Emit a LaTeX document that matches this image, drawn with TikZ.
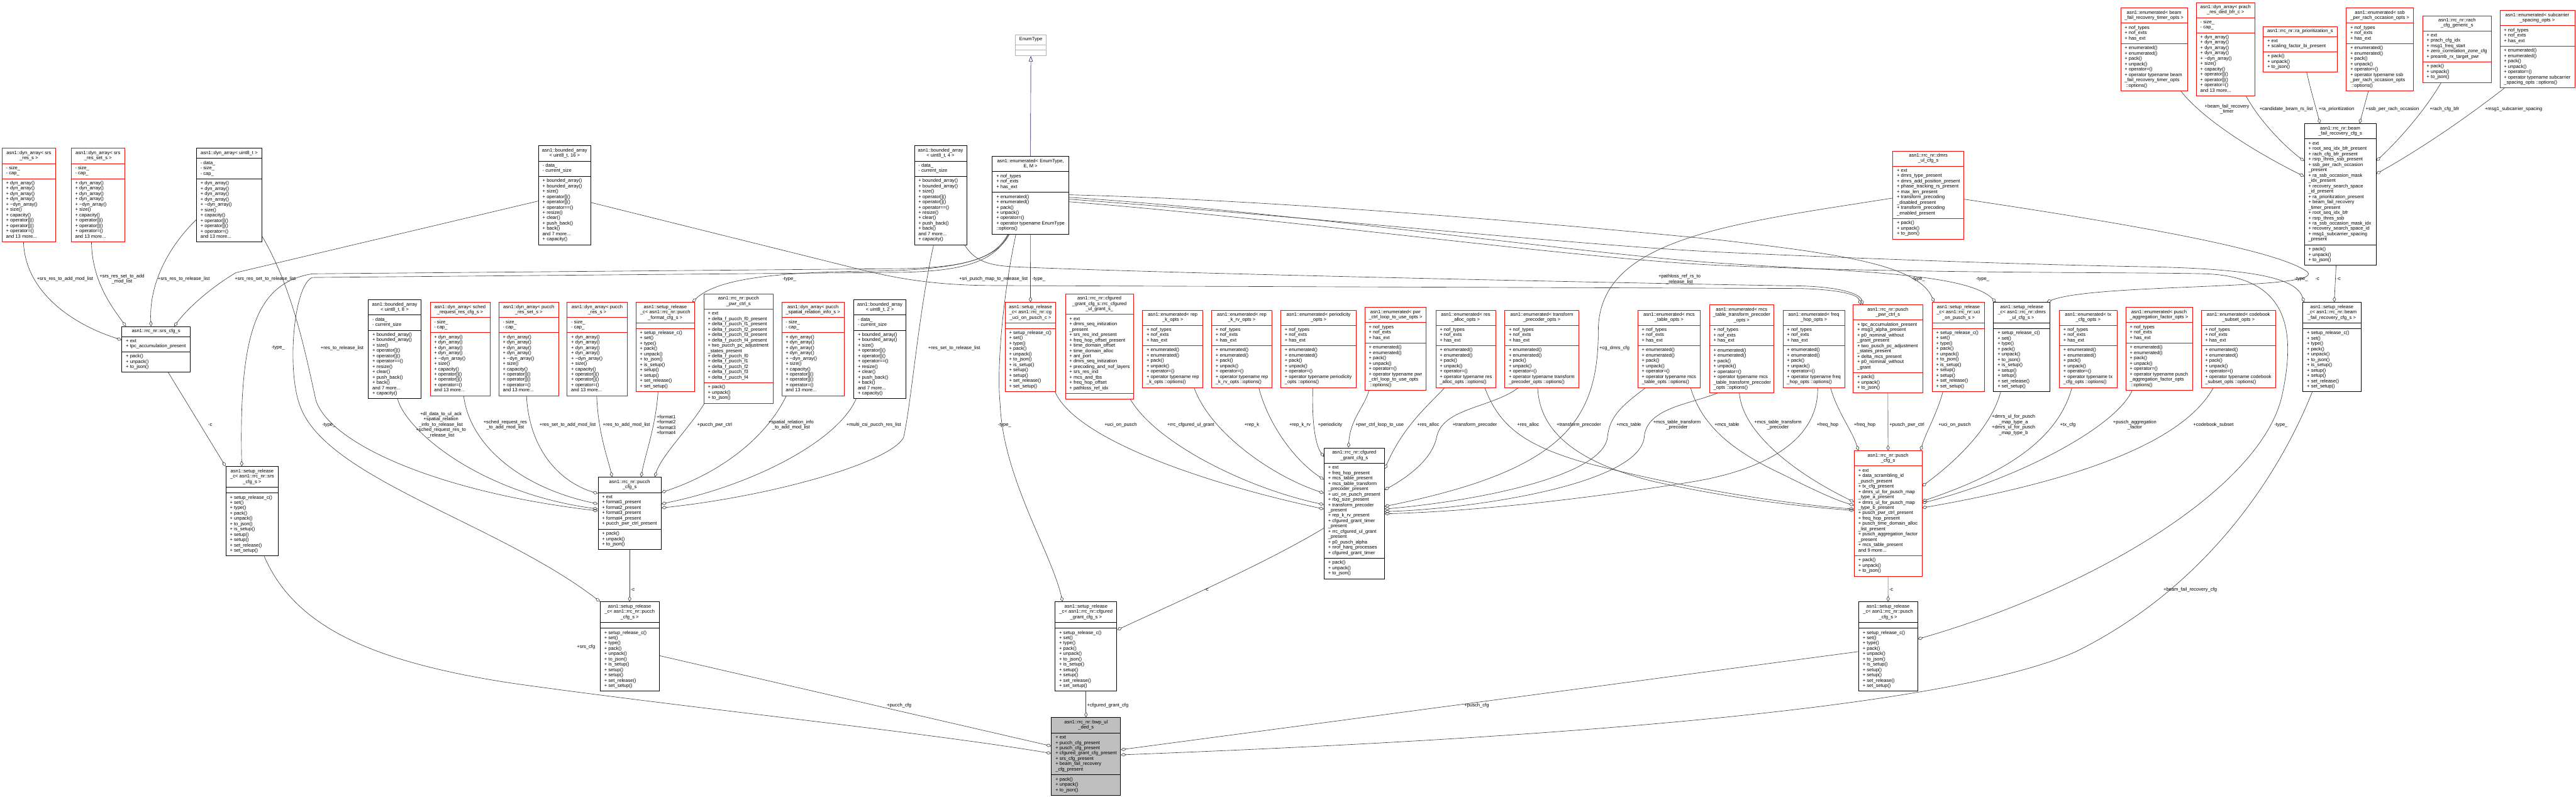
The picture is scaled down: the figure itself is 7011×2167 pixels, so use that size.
\documentclass[tikz,border=0pt]{standalone}
\usepackage{fontspec}
\setmainfont{Liberation Sans}
\usetikzlibrary{shapes.multipart,arrows.meta,calc}
\definecolor{edgec}{HTML}{404040}
\definecolor{inhc}{HTML}{191970}
\pgfdeclarelayer{bg}
\pgfsetlayers{bg,main}
\newcommand\cttl[2]{\makebox[#1pt]{\begin{tabular}{@{}c@{}}#2\end{tabular}}}
\newcommand\clst[2]{\makebox[#1pt][l]{\begin{tabular}{@{}l@{}}#2\end{tabular}}}
\newcommand\cls[8]{\pgfmathsetmacro\clsw{#5-22}%
 \node[cls,#2] (#1) at (#3,#4) {\cttl{\clsw}{#6}\nodepart{two}\clst{\clsw}{#7}\nodepart{three}\clst{\clsw}{#8}};}
\newcommand\dynM{+ dyn\_array()\\+ dyn\_array()\\+ dyn\_array()\\+ dyn\_array()\\+ \textasciitilde dyn\_array()\\+ size()\\+ capacity()\\+ operator[]()\\+ operator[]()\\+ operator=()\\and 13 more...}
\newcommand\bndM{+ bounded\_array()\\+ bounded\_array()\\+ size()\\+ operator[]()\\+ operator[]()\\+ operator==()\\+ resize()\\+ clear()\\+ push\_back()\\+ back()\\and 7 more...\\+ capacity()}
\newcommand\srM{+ setup\_release\_c()\\+ set()\\+ type()\\+ pack()\\+ unpack()\\+ to\_json()\\+ is\_setup()\\+ setup()\\+ setup()\\+ set\_release()\\+ set\_setup()}
\newcommand\enA{+ nof\_types\\+ nof\_exts\\+ has\_ext}
\newcommand\enM{+ enumerated()\\+ enumerated()\\+ pack()\\+ unpack()\\+ operator=()}
\newcommand\pkM{+ pack()\\+ unpack()\\+ to\_json()}
\newcommand\dynA{- size\_\\- cap\_}
\newcommand\bndA{- data\_\\- current\_size}
\tikzset{
 cls/.style={rectangle split, rectangle split parts=3, draw, fill=white, anchor=north west, inner xsep=11pt, inner ysep=5.5pt, line width=1.4pt, font=\fontsize{13}{14.5}\selectfont},
 blk/.style={draw=black},
 redb/.style={draw=red, line width=1.2pt},
 gryb/.style={draw=black!30, line width=1.2pt},
 hil/.style={draw=black, fill=black!25},
 agg/.style={draw=edgec, line width=1.1pt, -{Diamond[open,length=15pt,width=9pt]}},
 inh/.style={draw=inhc, line width=1.1pt, -{Triangle[open,length=15pt,width=11pt]}},
 lbl/.style={font=\fontsize{13}{14.5}\selectfont, align=center, inner sep=0pt},
}
\begin{document}
\begin{tikzpicture}[x=1pt,y=-1pt]
\useasboundingbox (0,0) rectangle (7011,2167);
% ---------------- classes ----------------
\cls{dynSrsRes}{redb}{5}{403}{146}{asn1::dyn\_array< srs\\\_res\_s >}{\dynA}{\dynM}
\cls{dynSrsResSet}{redb}{193}{403}{146}{asn1::dyn\_array< srs\\\_res\_set\_s >}{\dynA}{\dynM}
\cls{dynU8}{blk}{534}{403}{178}{asn1::dyn\_array< uint8\_t >}{- data\_\\- size\_\\- cap\_}{\dynM}
\cls{srsCfg}{blk}{331}{888}{186}{asn1::rrc\_nr::srs\_cfg\_s}{+ ext\\+ tpc\_accumulation\_present}{\pkM}
\cls{bnd8}{blk}{1002}{815}{143}{asn1::bounded\_array\\< uint8\_t, 8 >}{\bndA}{\bndM}
\cls{srSrs}{blk}{614}{1269}{143}{asn1::setup\_release\\\_c< asn1::rrc\_nr::srs\\\_cfg\_s >}{}{\srM}
\cls{bnd16}{blk}{1465}{396}{142}{asn1::bounded\_array\\< uint8\_t, 16 >}{\bndA}{\bndM}
\cls{dynSched}{redb}{1170}{822}{163}{asn1::dyn\_array< sched\\\_request\_res\_cfg\_s >}{\dynA}{\dynM}
\cls{dynPucchResSet}{redb}{1357}{822}{163}{asn1::dyn\_array< pucch\\\_res\_set\_s >}{\dynA}{\dynM}
\cls{dynPucchRes}{redb}{1543}{822}{163}{asn1::dyn\_array< pucch\\\_res\_s >}{\dynA}{\dynM}
\cls{srPucchFmt}{redb}{1730}{822}{160}{asn1::setup\_release\\\_c< asn1::rrc\_nr::pucch\\\_format\_cfg\_s >}{}{\srM}
\cls{pucchPwr}{redb}{1915}{799}{189}{asn1::rrc\_nr::pucch\\\_pwr\_ctrl\_s}{+ ext\\+ delta\_f\_pucch\_f0\_present\\+ delta\_f\_pucch\_f1\_present\\+ delta\_f\_pucch\_f2\_present\\+ delta\_f\_pucch\_f3\_present\\+ delta\_f\_pucch\_f4\_present\\+ two\_pucch\_pc\_adjustment\\\_states\_present\\+ delta\_f\_pucch\_f0\\+ delta\_f\_pucch\_f1\\+ delta\_f\_pucch\_f2\\+ delta\_f\_pucch\_f3\\+ delta\_f\_pucch\_f4}{\pkM}
\cls{dynPucchSpatial}{redb}{2127}{822}{170}{asn1::dyn\_array< pucch\\\_spatial\_relation\_info\_s >}{\dynA}{\dynM}
\cls{bnd2}{blk}{2323}{815}{142}{asn1::bounded\_array\\< uint8\_t, 2 >}{\bndA}{\bndM}
\cls{bnd4}{blk}{2488}{396}{142}{asn1::bounded\_array\\< uint8\_t, 4 >}{\bndA}{\bndM}
\cls{enumT}{blk}{2700}{425}{208}{asn1::enumerated< EnumType,\\E, M >}{\enA}{\enM\\+ operator typename EnumType\\::options()}
\cls{EnumType}{gryb}{2763}{94}{84}{EnumType}{}{}
\cls{srCgUci}{redb}{2735}{822}{138}{asn1::setup\_release\\\_c< asn1::rrc\_nr::cg\\\_uci\_on\_pusch\_c >}{}{\srM}
\cls{rrcUlGrant}{redb}{2899}{799}{185}{asn1::rrc\_nr::cfgured\\\_grant\_cfg\_s::rrc\_cfgured\\\_ul\_grant\_s\_}{+ ext\\+ dmrs\_seq\_initization\\\_present\\+ srs\_res\_ind\_present\\+ freq\_hop\_offset\_present\\+ time\_domain\_offset\\+ time\_domain\_alloc\\+ ant\_port\\+ dmrs\_seq\_initization\\+ precoding\_and\_nof\_layers\\+ srs\_res\_ind\\+ mcs\_and\_tbs\\+ freq\_hop\_offset\\+ pathloss\_ref\_idx}{}
\cls{enumRepK}{redb}{3109}{843}{164}{asn1::enumerated< rep\\\_k\_opts >}{\enA}{\enM\\+ operator typename rep\\\_k\_opts ::options()}
\cls{enumRepKrv}{redb}{3297}{843}{164}{asn1::enumerated< rep\\\_k\_rv\_opts >}{\enA}{\enM\\+ operator typename rep\\\_k\_rv\_opts ::options()}
\cls{enumPeriodicity}{redb}{3485}{843}{206}{asn1::enumerated< periodicity\\\_opts >}{\enA}{\enM\\+ operator typename periodicity\\\_opts ::options()}
\cls{enumPwrLoop}{redb}{3714}{836}{167}{asn1::enumerated< pwr\\\_ctrl\_loop\_to\_use\_opts >}{\enA}{\enM\\+ operator typename pwr\\\_ctrl\_loop\_to\_use\_opts\\\ ::options()}
\cls{enumResAlloc}{redb}{3907}{843}{163}{asn1::enumerated< res\\\_alloc\_opts >}{\enA}{\enM\\+ operator typename res\\\_alloc\_opts ::options()}
\cls{enumTransPrec}{redb}{4095}{843}{201}{asn1::enumerated< transform\\\_precoder\_opts >}{\enA}{\enM\\+ operator typename transform\\\_precoder\_opts ::options()}
\cls{enumMcsTable}{redb}{4457}{843}{170}{asn1::enumerated< mcs\\\_table\_opts >}{\enA}{\enM\\+ operator typename mcs\\\_table\_opts ::options()}
\cls{enumMcsTTP}{redb}{4652}{829}{175}{asn1::enumerated< mcs\\\_table\_transform\_precoder\\\_opts >}{\enA}{\enM\\+ operator typename mcs\\\_table\_transform\_precoder\\\_opts ::options()}
\cls{enumFreqHop}{redb}{4852}{843}{168}{asn1::enumerated< freq\\\_hop\_opts >}{\enA}{\enM\\+ operator typename freq\\\_hop\_opts ::options()}
\cls{puschPwr}{redb}{5043}{829}{189}{asn1::rrc\_nr::pusch\\\_pwr\_ctrl\_s}{+ tpc\_accumulation\_present\\+ msg3\_alpha\_present\\+ p0\_nominal\_without\\\_grant\_present\\+ two\_pusch\_pc\_adjustment\\\_states\_present\\+ delta\_mcs\_present\\+ p0\_nominal\_without\\\_grant}{\pkM}
\cls{srUci}{redb}{5258}{822}{143}{asn1::setup\_release\\\_c< asn1::rrc\_nr::uci\\\_on\_pusch\_s >}{}{\srM}
\cls{srDmrs}{blk}{5425}{822}{154}{asn1::setup\_release\\\_c< asn1::rrc\_nr::dmrs\\\_ul\_cfg\_s >}{}{\srM}
\cls{enumTxCfg}{redb}{5604}{843}{157}{asn1::enumerated< tx\\\_cfg\_opts >}{\enA}{\enM\\+ operator typename tx\\\_cfg\_opts ::options()}
\cls{enumAgg}{redb}{5785}{836}{181}{asn1::enumerated< pusch\\\_aggregation\_factor\_opts >}{\enA}{\enM\\+ operator typename pusch\\\_aggregation\_factor\_opts\\\ ::options()}
\cls{dmrsUl}{redb}{5151}{410}{193}{asn1::rrc\_nr::dmrs\\\_ul\_cfg\_s}{+ ext\\+ dmrs\_type\_present\\+ dmrs\_add\_position\_present\\+ phase\_tracking\_rs\_present\\+ max\_len\_present\\+ transform\_precoding\\\_disabled\_present\\+ transform\_precoding\\\_enabled\_present}{\pkM}
\cls{enumBeamTimer}{redb}{5771}{21}{182}{asn1::enumerated< beam\\\_fail\_recovery\_timer\_opts >}{\enA}{\enM\\+ operator typename beam\\\_fail\_recovery\_timer\_opts\\\ ::options()}
\cls{dynPrach}{redb}{5977}{6}{159}{asn1::dyn\_array< prach\\\_res\_ded\_bfr\_c >}{\dynA}{\dynM}
\cls{raPrio}{redb}{6159}{72}{201}{asn1::rrc\_nr::ra\_prioritization\_s}{+ ext\\+ scaling\_factor\_bi\_present}{\pkM}
\cls{enumSsb}{redb}{6385}{21}{183}{asn1::enumerated< ssb\\\_per\_rach\_occasion\_opts >}{\enA}{\enM\\+ operator typename ssb\\\_per\_rach\_occasion\_opts\\\ ::options()}
\cls{rachGen}{redb}{6593}{42}{187}{asn1::rrc\_nr::rach\\\_cfg\_generic\_s}{+ ext\\+ prach\_cfg\_idx\\+ msg1\_freq\_start\\+ zero\_correlation\_zone\_cfg\\+ preamb\_rx\_target\_pwr}{\pkM}
\cls{enumScs}{redb}{6803}{28}{204}{asn1::enumerated< subcarrier\\\_spacing\_opts >}{\enA}{\enM\\+ operator typename subcarrier\\\_spacing\_opts ::options()}
\cls{beamCfg}{blk}{6271}{336}{195}{asn1::rrc\_nr::beam\\\_fail\_recovery\_cfg\_s}{+ ext\\+ root\_seq\_idx\_bfr\_present\\+ rach\_cfg\_bfr\_present\\+ rsrp\_thres\_ssb\_present\\+ ssb\_per\_rach\_occasion\\\_present\\+ ra\_ssb\_occasion\_mask\\\_idx\_present\\+ recovery\_search\_space\\\_id\_present\\+ ra\_prioritization\_present\\+ beam\_fail\_recovery\\\_timer\_present\\+ root\_seq\_idx\_bfr\\+ rsrp\_thres\_ssb\\+ ra\_ssb\_occasion\_mask\_idx\\+ recovery\_search\_space\_id\\+ msg1\_subcarrier\_spacing\\\_present}{\pkM}
\cls{srBeam}{blk}{6267}{822}{158}{asn1::setup\_release\\\_c< asn1::rrc\_nr::beam\\\_fail\_recovery\_cfg\_s >}{}{\srM}
\cls{enumCodebook}{redb}{5990}{843}{203}{asn1::enumerated< codebook\\\_subset\_opts >}{\enA}{\enM\\+ operator typename codebook\\\_subset\_opts ::options()}
\cls{srCfgured}{blk}{2871}{1637}{168}{asn1::setup\_release\\\_c< asn1::rrc\_nr::cfgured\\\_grant\_cfg\_s >}{}{\srM}
\cls{bwp}{hil}{2861}{1952}{188}{asn1::rrc\_nr::bwp\_ul\\\_ded\_s}{+ ext\\+ pucch\_cfg\_present\\+ pusch\_cfg\_present\\+ cfgured\_grant\_cfg\_present\\+ srs\_cfg\_present\\+ beam\_fail\_recovery\\\_cfg\_present}{\pkM}
\cls{cfguredCfg}{blk}{3603}{1218}{164}{asn1::rrc\_nr::cfgured\\\_grant\_cfg\_s}{+ ext\\+ freq\_hop\_present\\+ mcs\_table\_present\\+ mcs\_table\_transform\\\_precoder\_present\\+ uci\_on\_pusch\_present\\+ rbg\_size\_present\\+ transform\_precoder\\\_present\\+ rep\_k\_rv\_present\\+ cfgured\_grant\_timer\\\_present\\+ rrc\_cfgured\_ul\_grant\\\_present\\+ p0\_pusch\_alpha\\+ nrof\_harq\_processes\\+ cfgured\_grant\_timer}{\pkM}
\cls{pucchCfg}{blk}{1627}{1298}{172}{asn1::rrc\_nr::pucch\\\_cfg\_s}{+ ext\\+ format1\_present\\+ format2\_present\\+ format3\_present\\+ format4\_present\\+ pucch\_pwr\_ctrl\_present}{\pkM}
\cls{srPucch}{blk}{1633}{1637}{160}{asn1::setup\_release\\\_c< asn1::rrc\_nr::pucch\\\_cfg\_s >}{}{\srM}
\cls{puschCfg}{redb}{5046}{1226}{184}{asn1::rrc\_nr::pusch\\\_cfg\_s}{+ ext\\+ data\_scrambling\_id\\\_pusch\_present\\+ tx\_cfg\_present\\+ dmrs\_ul\_for\_pusch\_map\\\_type\_a\_present\\+ dmrs\_ul\_for\_pusch\_map\\\_type\_b\_present\\+ pusch\_pwr\_ctrl\_present\\+ freq\_hop\_present\\+ pusch\_time\_domain\_alloc\\\_list\_present\\+ pusch\_aggregation\_factor\\\_present\\+ mcs\_table\_present\\and 9 more...}{\pkM}
\cls{srPusch}{blk}{5058}{1637}{160}{asn1::setup\_release\\\_c< asn1::rrc\_nr::pusch\\\_cfg\_s >}{}{\srM}
% ---------------- connectors ----------------
\begin{pgfonlayer}{bg}
\draw[inh] (enumT.north) -- (EnumType.south);
\draw[agg] ($(dynSrsRes.south west)+(59,0)$) .. controls (68,790) and (190,880) .. ($(srsCfg.north west)+(0,37)$);
\draw[agg] ($(dynSrsResSet.south west)+(56,0)$) .. controls (250,760) and (300,830) .. ($(srsCfg.north west)+(12,0)$);
\draw[agg] ($(dynU8.north west)+(0,195)$) .. controls (470,660) and (405,760) .. ($(srsCfg.north west)+(80,0)$);
\draw[agg] ($(bnd16.north west)+(0,151)$) -- (642,742) .. controls (570,785) and (510,840) .. ($(srsCfg.north west)+(143,0)$);
\draw[agg] ($(dynU8.north east)+(0,240)$) .. controls (800,790) and (835,980) .. (860,1090) .. controls (900,1210) and (1200,1340) .. ($(pucchCfg.north west)+(0,92)$);
\draw[agg] ($(bnd8.south west)+(80,0)$) .. controls (1105,1170) and (1300,1340) .. ($(pucchCfg.north west)+(0,87)$);
\draw[agg] ($(dynSched.south west)+(92,0)$) .. controls (1280,1220) and (1430,1330) .. ($(pucchCfg.north west)+(0,73)$);
\draw[agg] ($(dynPucchResSet.south west)+(76,0)$) .. controls (1440,1220) and (1520,1310) .. ($(pucchCfg.north west)+(0,45)$);
\draw[agg] ($(dynPucchRes.south west)+(81,0)$) .. controls (1628,1180) and (1655,1250) .. ($(pucchCfg.north west)+(39,0)$);
\draw[agg] ($(srPucchFmt.south west)+(61,0)$) .. controls (1785,1160) and (1755,1240) .. ($(pucchCfg.north west)+(118,0)$);
\draw[agg] ($(pucchPwr.south west)+(2,0)$) .. controls (1880,1160) and (1800,1240) .. ($(pucchCfg.north west)+(155,0)$);
\draw[agg] ($(dynPucchSpatial.south west)+(13,0)$) .. controls (2080,1200) and (1950,1290) .. ($(pucchCfg.north east)+(0,42)$);
\draw[agg] ($(bnd2.south west)+(7,0)$) .. controls (2280,1200) and (2050,1320) .. ($(pucchCfg.north east)+(0,73)$);
\draw[agg] ($(bnd4.south west)+(53,0)$) .. controls (2500,850) and (2480,1100) .. (2459,1191) .. controls (2420,1260) and (2100,1350) .. ($(pucchCfg.north east)+(0,84)$);
\draw[agg] (pucchCfg.south) -- (srPucch.north);
\draw[agg] ($(srPucch.north east)+(0,147)$) -- ($(bwp.north west)+(0,78)$);
\draw[agg] ($(srSrs.south west)+(105,0)$) .. controls (800,1700) and (1000,1800) .. (1400,1860) .. controls (1900,1930) and (2500,1990) .. ($(bwp.north west)+(0,98)$);
\draw[agg] (srCfgured.south) -- (bwp.north);
\draw[agg] ($(srPusch.north west)+(0,136)$) -- ($(bwp.north east)+(0,88)$);
\draw[agg] ($(srBeam.south west)+(26,0)$) .. controls (6200,1300) and (6000,1600) .. (5650,1773) .. controls (5300,1930) and (4200,2010) .. ($(bwp.north east)+(0,102)$);
\draw[agg] (enumT.south) -- (srCgUci.north);
\draw[agg] ($(enumT.south west)+(43,0)$) .. controls (2710,700) and (2640,728) .. (2450,731) -- (850,745) .. controls (700,770) and (650,900) .. ($(srSrs.north west)+(44,0)$);
\draw[agg] ($(enumT.south west)+(45,0)$) .. controls (2710,705) and (2640,738) .. (2450,741) -- (850,755) .. controls (800,775) and (780,1000) .. (815,1100) .. controls (880,1300) and (1350,1420) .. (srPucch.north west);
\draw[agg] ($(enumT.south west)+(47,0)$) .. controls (2710,710) and (2600,737) .. (2340,738) .. controls (2100,742) and (1950,760) .. ($(srPucchFmt.north east)+(-7,0)$);
\draw[agg] ($(enumT.south west)+(65,0)$) .. controls (2730,800) and (2712,1000) .. (2722,1100) .. controls (2730,1300) and (2860,1500) .. ($(srCfgured.north west)+(21,0)$);
\draw[agg] ($(enumT.north east)+(0,105)$) .. controls (3500,545) and (4300,615) .. (4680,653) .. controls (5000,690) and (5220,720) .. ($(srUci.north west)+(6,0)$);
\draw[agg] ($(enumT.north east)+(0,112)$) .. controls (3500,575) and (4300,690) .. (4680,716) .. controls (5000,738) and (5350,740) .. ($(srDmrs.north west)+(7,0)$);
\draw[agg] ($(enumT.north east)+(0,117)$) .. controls (3500,585) and (4300,668) .. (4680,686) .. controls (5100,706) and (5600,722) .. (5850,726) .. controls (6150,732) and (6250,760) .. ($(srBeam.north west)+(4,0)$);
\draw[agg] ($(enumT.north east)+(0,124)$) .. controls (3500,595) and (4300,705) .. (4680,722) .. controls (5200,745) and (5800,740) .. (6000,745) .. controls (6230,752) and (6250,900) .. (6210,1080) .. controls (6150,1330) and (5700,1600) .. ($(srPusch.north east)+(0,102)$);
\draw[agg] ($(dmrsUl.north east)+(0,132)$) .. controls (5800,610) and (6200,680) .. (6280,740) .. controls (6330,790) and (5700,770) .. ($(srDmrs.north east)+(-10,0)$);
\draw[agg] ($(beamCfg.south west)+(87,0)$) -- ($(srBeam.north west)+(86,0)$);
\draw[agg] ($(dmrsUl.north west)+(0,129)$) .. controls (4700,610) and (4350,650) .. (4350,900) .. controls (4350,1150) and (4250,1280) .. ($(cfguredCfg.north east)+(0,160)$);
\draw[agg] ($(bnd16.north east)+(0,155)$) -- (2340,733) .. controls (2450,760) and (2550,776) .. (2700,777) -- (4900,785) .. controls (5000,788) and (5055,800) .. ($(puschPwr.north west)+(21,0)$);
\draw[agg] ($(bnd4.south east)+(-6,0)$) .. controls (2650,705) and (2680,722) .. (2760,726) .. controls (3200,745) and (4500,772) .. (4900,778) .. controls (5010,781) and (5062,800) .. ($(puschPwr.north west)+(27,0)$);
\draw[agg] ($(srCgUci.south east)+(-3,0)$) .. controls (2930,1200) and (3300,1320) .. ($(cfguredCfg.north west)+(0,167)$);
\draw[agg] ($(rrcUlGrant.south east)+(-9,0)$) .. controls (3150,1210) and (3400,1330) .. ($(cfguredCfg.north west)+(0,155)$);
\draw[agg] ($(enumRepK.south west)+(141,0)$) .. controls (3290,1170) and (3450,1290) .. ($(cfguredCfg.north west)+(0,124)$);
\draw[agg] ($(enumRepKrv.south west)+(129,0)$) .. controls (3450,1150) and (3520,1250) .. ($(cfguredCfg.north west)+(0,87)$);
\draw[agg] ($(enumPeriodicity.south west)+(88,0)$) .. controls (3570,1150) and (3580,1210) .. ($(cfguredCfg.north west)+(0,25)$);
\draw[agg] ($(enumPwrLoop.south west)+(12,0)$) .. controls (3712,1110) and (3675,1140) .. ($(cfguredCfg.north west)+(67,0)$);
\draw[agg] ($(enumResAlloc.south west)+(25,0)$) .. controls (3880,1110) and (3820,1160) .. ($(cfguredCfg.north east)+(0,58)$);
\draw[agg] ($(enumTransPrec.south west)+(38,0)$) .. controls (4060,1110) and (3925,1110) .. (3910,1190) .. controls (3895,1260) and (3810,1310) .. ($(cfguredCfg.north east)+(0,115)$);
\draw[agg] ($(enumResAlloc.south west)+(134,0)$) .. controls (4080,1160) and (4150,1210) .. (4300,1255) .. controls (4600,1335) and (4900,1375) .. ($(puschCfg.north west)+(0,159)$);
\draw[agg] ($(enumTransPrec.south west)+(90,0)$) .. controls (4190,1180) and (4300,1260) .. (4500,1310) .. controls (4750,1365) and (4950,1382) .. ($(puschCfg.north west)+(0,163)$);
\draw[agg] ($(enumMcsTable.south west)+(22,0)$) .. controls (4420,1100) and (4380,1130) .. (4375,1190) .. controls (4360,1300) and (4000,1365) .. ($(cfguredCfg.north east)+(0,167)$);
\draw[agg] ($(enumMcsTable.south west)+(144,0)$) .. controls (4630,1150) and (4700,1220) .. (4850,1290) .. controls (4950,1340) and (5000,1362) .. ($(puschCfg.north west)+(0,149)$);
\draw[agg] ($(enumMcsTTP.south west)+(22,0)$) .. controls (4600,1100) and (4480,1110) .. (4475,1190) .. controls (4460,1320) and (4000,1385) .. ($(cfguredCfg.north east)+(0,174)$);
\draw[agg] ($(enumMcsTTP.south west)+(82,0)$) .. controls (4740,1160) and (4850,1270) .. ($(puschCfg.north west)+(0,140)$);
\draw[agg] ($(enumFreqHop.south west)+(95,0)$) .. controls (4950,1200) and (4800,1280) .. (4600,1312) .. controls (4300,1360) and (4000,1392) .. ($(cfguredCfg.north east)+(0,180)$);
\draw[agg] ($(enumFreqHop.south west)+(130,0)$) .. controls (5000,1120) and (5040,1170) .. ($(puschCfg.north west)+(12,0)$);
\draw[agg] (puschPwr.south) -- (puschCfg.north);
\draw[agg] ($(srUci.south west)+(30,0)$) .. controls (5270,1130) and (5240,1180) .. ($(puschCfg.north east)+(-4,0)$);
\draw[agg] ($(srDmrs.south west)+(20,0)$) .. controls (5420,1160) and (5330,1250) .. ($(puschCfg.north east)+(0,97)$);
\draw[agg] ($(enumTxCfg.south west)+(35,0)$) .. controls (5600,1200) and (5450,1290) .. ($(puschCfg.north east)+(0,138)$);
\draw[agg] ($(enumAgg.south west)+(18,0)$) .. controls (5760,1160) and (5500,1300) .. ($(puschCfg.north east)+(0,143)$);
\draw[agg] ($(enumCodebook.south west)+(34,0)$) .. controls (5950,1190) and (5700,1300) .. ($(puschCfg.north east)+(0,156)$);
\draw[agg] (puschCfg.south) -- (srPusch.north);
\draw[agg] ($(cfguredCfg.north west)+(0,219)$) .. controls (3450,1530) and (3200,1640) .. ($(srCfgured.north east)+(0,77)$);
\draw[agg] ($(srsCfg.south west)+(127,0)$) -- (srSrs.north west);
\draw[agg] ($(enumBeamTimer.south west)+(164,0)$) .. controls (6000,330) and (6150,420) .. ($(beamCfg.north west)+(0,144)$);
\draw[agg] ($(dynPrach.south west)+(136,0)$) .. controls (6150,330) and (6220,400) .. ($(beamCfg.north west)+(0,102)$);
\draw[agg] ($(raPrio.south west)+(119,0)$) .. controls (6290,250) and (6305,300) .. ($(beamCfg.north west)+(43,0)$);
\draw[agg] ($(enumSsb.south west)+(61,0)$) -- ($(beamCfg.north west)+(151,0)$);
\draw[agg] ($(rachGen.south west)+(51,0)$) .. controls (6600,300) and (6530,380) .. ($(beamCfg.north east)+(0,102)$);
\draw[agg] ($(enumScs.south west)+(13,0)$) .. controls (6700,330) and (6580,410) .. ($(beamCfg.north east)+(0,137)$);
\end{pgfonlayer}
% ---------------- labels ----------------
\node[lbl] (l1) at (177,759) {+srs\_res\_to\_add\_mod\_list};
\node[lbl] (l2) at (332,759) {+srs\_res\_set\_to\_add\\\_mod\_list};
\node[lbl] (l3) at (500,759) {+srs\_res\_to\_release\_list};
\node[lbl] (l4) at (722,759) {+srs\_res\_set\_to\_release\_list};
\node[lbl] (l5) at (757,947) {-type\_};
\node[lbl] (l6) at (931,947) {+res\_to\_release\_list};
\node[lbl] (l7) at (2148,759) {-type\_};
\node[lbl] (l8) at (2597,947) {+res\_set\_to\_release\_list};
\node[lbl] (l9) at (2704,759) {+sri\_pusch\_map\_to\_release\_list};
\node[lbl] (l10) at (2827,759) {-type\_};
\node[lbl] (l11) at (4571,760) {+pathloss\_ref\_rs\_to\\\_release\_list};
\node[lbl] (l12) at (4394,947) {+cg\_dmrs\_cfg};
\node[lbl] (l13) at (5221,759) {-type\_};
\node[lbl] (l14) at (5396,759) {-type\_};
\node[lbl] (l15) at (6061,297) {+beam\_fail\_recovery\\\_timer};
\node[lbl] (l16) at (6222,297) {+candidate\_beam\_rs\_list};
\node[lbl] (l17) at (6359,297) {+ra\_prioritization};
\node[lbl] (l18) at (6511,297) {+ssb\_per\_rach\_occasion};
\node[lbl] (l19) at (6653,297) {+rach\_cfg\_bfr};
\node[lbl] (l20) at (6841,297) {+msg1\_subcarrier\_spacing};
\node[lbl] (l21) at (6263,759) {-type\_};
\node[lbl] (l22) at (6307,759) {-c};
\node[lbl] (l23) at (6365,759) {-c};
\node[lbl] (l24) at (572,1156) {-c};
\node[lbl] (l25) at (895,1156) {-type\_};
\node[lbl] (l26) at (1200,1156) {+dl\_data\_to\_ul\_ack\\+spatial\_relation\\\_info\_to\_release\_list\\+sched\_request\_res\_to\\\_release\_list};
\node[lbl] (l27) at (1375,1156) {+sched\_request\_res\\\_to\_add\_mod\_list};
\node[lbl] (l28) at (1545,1156) {+res\_set\_to\_add\_mod\_list};
\node[lbl] (l29) at (1705,1156) {+res\_to\_add\_mod\_list};
\node[lbl] (l30) at (1813,1156) {+format1\\+format2\\+format3\\+format4};
\node[lbl] (l31) at (1945,1156) {+pucch\_pwr\_ctrl};
\node[lbl] (l32) at (2153,1156) {+spatial\_relation\_info\\\_to\_add\_mod\_list};
\node[lbl] (l33) at (2378,1156) {+multi\_csi\_pucch\_res\_list};
\node[lbl] (l34) at (2734,1156) {-type\_};
\node[lbl] (l35) at (3050,1156) {+uci\_on\_pusch};
\node[lbl] (l36) at (3241,1156) {+rrc\_cfgured\_ul\_grant};
\node[lbl] (l37) at (3407,1156) {+rep\_k};
\node[lbl] (l38) at (3538,1156) {+rep\_k\_rv};
\node[lbl] (l39) at (3620,1156) {+periodicity};
\node[lbl] (l40) at (3755,1156) {+pwr\_ctrl\_loop\_to\_use};
\node[lbl] (l41) at (3887,1156) {+res\_alloc};
\node[lbl] (l42) at (4014,1156) {+transform\_precoder};
\node[lbl] (l43) at (4159,1156) {+res\_alloc};
\node[lbl] (l44) at (4297,1156) {+transform\_precoder};
\node[lbl] (l45) at (4433,1156) {+mcs\_table};
\node[lbl] (l46) at (4564,1156) {+mcs\_table\_transform\\\_precoder};
\node[lbl] (l47) at (4700,1156) {+mcs\_table};
\node[lbl] (l48) at (4839,1156) {+mcs\_table\_transform\\\_precoder};
\node[lbl] (l49) at (4974,1156) {+freq\_hop};
\node[lbl] (l50) at (5075,1156) {+freq\_hop};
\node[lbl] (l51) at (5190,1156) {+pusch\_pwr\_ctrl};
\node[lbl] (l52) at (5320,1156) {+uci\_on\_pusch};
\node[lbl] (l53) at (5480,1156) {+dmrs\_ul\_for\_pusch\\\_map\_type\_a\\+dmrs\_ul\_for\_pusch\\\_map\_type\_b};
\node[lbl] (l54) at (5628,1156) {+tx\_cfg};
\node[lbl] (l55) at (5810,1156) {+pusch\_aggregation\\\_factor};
\node[lbl] (l56) at (6024,1156) {+codebook\_subset};
\node[lbl] (l57) at (6208,1156) {-type\_};
\node[lbl] (l58) at (1722,1604) {-c};
\node[lbl] (l59) at (3284,1604) {-c};
\node[lbl] (l60) at (5147,1604) {-c};
\node[lbl] (l61) at (5961,1604) {+beam\_fail\_recovery\_cfg};
\node[lbl] (l62) at (1595,1761) {+srs\_cfg};
\node[lbl] (l63) at (2447,1919) {+pucch\_cfg};
\node[lbl] (l64) at (3015,1919) {+cfgured\_grant\_cfg};
\node[lbl] (l65) at (4019,1919) {+pusch\_cfg};
\end{tikzpicture}
\end{document}
